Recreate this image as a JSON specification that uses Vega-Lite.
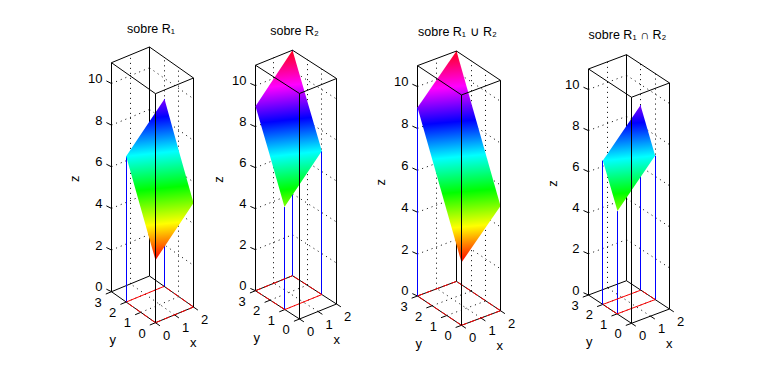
{"$schema":"https://vega.github.io/schema/vega-lite/v6.json","width":762,"height":375,"autosize":"none","padding":0,"background":"white","config":{"view":{"stroke":null},"text":{"font":"Liberation Sans","fontSize":13,"color":"#000"},"rule":{"color":"#000","strokeWidth":1}},
"datasets":{"proj":[
{"p":1,"ox":155.5,"oy":322.7,"xx":19,"xy":-7.85,"yx":-14.667,"yy":-10.33,"zz":20.82},
{"p":2,"ox":299.5,"oy":319,"xx":18.5,"xy":-7.5,"yx":-14.667,"yy":-9.43,"zz":20.5},
{"p":3,"ox":461.5,"oy":325.3,"xx":19.5,"xy":-7.3,"yx":-14.667,"yy":-9.77,"zz":20.94},
{"p":4,"ox":631.5,"oy":323.3,"xx":19,"xy":-7.15,"yx":-14.333,"yy":-9.43,"zz":20.55}],
"rows":[
{"k":"grid","x":0,"y":3,"z":2,"x2":2,"y2":3,"z2":2},{"k":"grid","x":2,"y":3,"z":2,"x2":2,"y2":0,"z2":2},
{"k":"grid","x":0,"y":3,"z":4,"x2":2,"y2":3,"z2":4},{"k":"grid","x":2,"y":3,"z":4,"x2":2,"y2":0,"z2":4},
{"k":"grid","x":0,"y":3,"z":6,"x2":2,"y2":3,"z2":6},{"k":"grid","x":2,"y":3,"z":6,"x2":2,"y2":0,"z2":6},
{"k":"grid","x":0,"y":3,"z":8,"x2":2,"y2":3,"z2":8},{"k":"grid","x":2,"y":3,"z":8,"x2":2,"y2":0,"z2":8},
{"k":"grid","x":0,"y":3,"z":10,"x2":2,"y2":3,"z2":10},{"k":"grid","x":2,"y":3,"z":10,"x2":2,"y2":0,"z2":10},
{"k":"grid","x":1,"y":3,"z":0,"x2":1,"y2":3,"z2":11},{"k":"grid","x":2,"y":2,"z":0,"x2":2,"y2":2,"z2":11},{"k":"grid","x":2,"y":1,"z":0,"x2":2,"y2":1,"z2":11},
{"k":"grid","x":1,"y":0,"z":0,"x2":1,"y2":3,"z2":0},{"k":"grid","x":0,"y":1,"z":0,"x2":2,"y2":1,"z2":0},{"k":"grid","x":0,"y":2,"z":0,"x2":2,"y2":2,"z2":0},
{"k":"back","x":0,"y":3,"z":0,"x2":0,"y2":3,"z2":11},{"k":"back","x":2,"y":3,"z":0,"x2":2,"y2":3,"z2":11},
{"k":"back","x":0,"y":0,"z":0,"x2":2,"y2":0,"z2":0},{"k":"back","x":2,"y":0,"z":0,"x2":2,"y2":3,"z2":0},{"k":"back","x":2,"y":3,"z":0,"x2":0,"y2":3,"z2":0},{"k":"back","x":0,"y":3,"z":0,"x2":0,"y2":0,"z2":0},
{"k":"front","x":0,"y":0,"z":0,"x2":0,"y2":0,"z2":11},{"k":"front","x":2,"y":0,"z":0,"x2":2,"y2":0,"z2":11},
{"k":"front","x":0,"y":0,"z":11,"x2":2,"y2":0,"z2":11},{"k":"front","x":2,"y":0,"z":11,"x2":2,"y2":3,"z2":11},{"k":"front","x":2,"y":3,"z":11,"x2":0,"y2":3,"z2":11},{"k":"front","x":0,"y":3,"z":11,"x2":0,"y2":0,"z2":11},
{"k":"tick","x":0,"y":3,"z":0,"x2":0,"y2":3.35,"z2":-0.05},{"k":"tick","x":0,"y":3,"z":2,"x2":0,"y2":3.35,"z2":1.95},{"k":"tick","x":0,"y":3,"z":4,"x2":0,"y2":3.35,"z2":3.95},{"k":"tick","x":0,"y":3,"z":6,"x2":0,"y2":3.35,"z2":5.95},{"k":"tick","x":0,"y":3,"z":8,"x2":0,"y2":3.35,"z2":7.95},{"k":"tick","x":0,"y":3,"z":10,"x2":0,"y2":3.35,"z2":9.95},
{"k":"tick","x":0,"y":0,"z":0,"x2":0,"y2":-0.3,"z2":0},{"k":"tick","x":1,"y":0,"z":0,"x2":1,"y2":-0.3,"z2":0},{"k":"tick","x":2,"y":0,"z":0,"x2":2,"y2":-0.3,"z2":0},
{"k":"tick","x":0,"y":0,"z":0,"x2":-0.3,"y2":0,"z2":0},{"k":"tick","x":0,"y":1,"z":0,"x2":-0.3,"y2":1,"z2":0},{"k":"tick","x":0,"y":2,"z":0,"x2":-0.3,"y2":2,"z2":0},{"k":"tick","x":0,"y":3,"z":0,"x2":-0.3,"y2":3,"z2":0},
{"k":"blue","p":[1],"x":0,"y":2,"z":0,"x2":0,"y2":2,"z2":7},{"k":"blue","p":[1],"x":2,"y":2,"z":0,"x2":2,"y2":2,"z2":9},{"k":"blue","p":[1],"x":0,"y":0,"z":0,"x2":0,"y2":0,"z2":3},{"k":"blue","p":[1],"x":2,"y":0,"z":0,"x2":2,"y2":0,"z2":5},
{"k":"blue","p":[2],"x":0,"y":1,"z":0,"x2":0,"y2":1,"z2":5},{"k":"blue","p":[2],"x":2,"y":1,"z":0,"x2":2,"y2":1,"z2":7},{"k":"blue","p":[2],"x":2,"y":3,"z":0,"x2":2,"y2":3,"z2":11},
{"k":"blue","p":[3],"x":0,"y":0,"z":0,"x2":0,"y2":0,"z2":3},{"k":"blue","p":[3],"x":2,"y":0,"z":0,"x2":2,"y2":0,"z2":5},{"k":"blue","p":[3],"x":0,"y":3,"z":0,"x2":0,"y2":3,"z2":9},
{"k":"blue","p":[4],"x":0,"y":1,"z":0,"x2":0,"y2":1,"z2":5},{"k":"blue","p":[4],"x":2,"y":1,"z":0,"x2":2,"y2":1,"z2":7},{"k":"blue","p":[4],"x":0,"y":2,"z":0,"x2":0,"y2":2,"z2":7},{"k":"blue","p":[4],"x":2,"y":2,"z":0,"x2":2,"y2":2,"z2":9},
{"k":"red","p":[1],"x":0,"y":2,"z":0,"x2":2,"y2":2,"z2":0},{"k":"redd","p":[1],"x":0,"y":0,"z":0,"x2":2,"y2":0,"z2":0},{"k":"redd","p":[1],"x":0,"y":0,"z":0,"x2":0,"y2":2,"z2":0},{"k":"redd","p":[1],"x":2,"y":0,"z":0,"x2":2,"y2":2,"z2":0},
{"k":"red","p":[2],"x":0,"y":1,"z":0,"x2":2,"y2":1,"z2":0},{"k":"redd","p":[2],"x":0,"y":3,"z":0,"x2":2,"y2":3,"z2":0},{"k":"redd","p":[2],"x":0,"y":1,"z":0,"x2":0,"y2":3,"z2":0},{"k":"redd","p":[2],"x":2,"y":1,"z":0,"x2":2,"y2":3,"z2":0},
{"k":"redd","p":[3],"x":0,"y":0,"z":0,"x2":2,"y2":0,"z2":0},{"k":"redd","p":[3],"x":0,"y":3,"z":0,"x2":2,"y2":3,"z2":0},{"k":"redd","p":[3],"x":0,"y":0,"z":0,"x2":0,"y2":3,"z2":0},{"k":"redd","p":[3],"x":2,"y":0,"z":0,"x2":2,"y2":3,"z2":0},
{"k":"red","p":[4],"x":0,"y":1,"z":0,"x2":2,"y2":1,"z2":0},{"k":"red","p":[4],"x":0,"y":2,"z":0,"x2":2,"y2":2,"z2":0},{"k":"redd","p":[4],"x":0,"y":1,"z":0,"x2":0,"y2":2,"z2":0},{"k":"redd","p":[4],"x":2,"y":1,"z":0,"x2":2,"y2":2,"z2":0},
{"k":"s1","p":[1],"x":2,"y":2,"z":9,"x2":2,"y2":2},{"k":"s1","p":[1],"x":0,"y":2,"z":7,"x2":2,"y2":0.897},{"k":"s1","p":[1],"x":0,"y":1.103,"z":5.206,"x2":2,"y2":0},{"k":"s1","p":[1],"x":0,"y":0,"z":3,"x2":0,"y2":0},
{"k":"s2","p":[2],"x":2,"y":3,"z":11,"x2":2,"y2":3},{"k":"s2","p":[2],"x":0,"y":3,"z":9,"x2":2,"y2":1.89},{"k":"s2","p":[2],"x":0,"y":2.11,"z":7.22,"x2":2,"y2":1},{"k":"s2","p":[2],"x":0,"y":1,"z":5,"x2":0,"y2":1},
{"k":"s3","p":[3],"x":2,"y":3,"z":11,"x2":2,"y2":3},{"k":"s3","p":[3],"x":0,"y":3,"z":9,"x2":2,"y2":1.906},{"k":"s3","p":[3],"x":0,"y":1.094,"z":5.188,"x2":2,"y2":0},{"k":"s3","p":[3],"x":0,"y":0,"z":3,"x2":0,"y2":0},
{"k":"s4","p":[4],"x":2,"y":2,"z":9,"x2":2,"y2":2},{"k":"s4","p":[4],"x":0.176,"y":2,"z":7.176,"x2":2,"y2":1},{"k":"s4","p":[4],"x":0,"y":2,"z":7,"x2":1.824,"y2":1},{"k":"s4","p":[4],"x":0,"y":1,"z":5,"x2":0,"y2":1},
{"k":"zl","x":0,"y":3,"z":0,"t":"0"},{"k":"zl","x":0,"y":3,"z":2,"t":"2"},{"k":"zl","x":0,"y":3,"z":4,"t":"4"},{"k":"zl","x":0,"y":3,"z":6,"t":"6"},{"k":"zl","x":0,"y":3,"z":8,"t":"8"},{"k":"zl","x":0,"y":3,"z":10,"t":"10"},
{"k":"yl","x":0,"y":0,"z":0,"t":"0"},{"k":"yl","x":0,"y":1,"z":0,"t":"1"},{"k":"yl","x":0,"y":2,"z":0,"t":"2"},{"k":"yl","x":0,"y":3,"z":0,"t":"3"},
{"k":"xl","x":0,"y":0,"z":0,"t":"0"},{"k":"xl","x":1,"y":0,"z":0,"t":"1"},{"k":"xl","x":2,"y":0,"z":0,"t":"2"},
{"k":"xn","x":1,"y":0,"z":0,"t":"x"},{"k":"yn","x":0,"y":1.5,"z":0,"t":"y"},{"k":"zn","x":0,"y":3,"z":5.5,"t":"z"},
{"k":"title","p":[1],"x":1,"y":1.5,"z":11,"t":"sobre R₁"},{"k":"title","p":[2],"x":1,"y":1.5,"z":11,"t":"sobre R₂"},{"k":"title","p":[3],"x":1,"y":1.5,"z":11,"t":"sobre R₁ ∪ R₂"},{"k":"title","p":[4],"x":1,"y":1.5,"z":11,"t":"sobre R₁ ∩ R₂"}
]},
"data":{"name":"rows"},
"transform":[
{"calculate":"datum.p||[1,2,3,4]","as":"ps"},{"flatten":["ps"]},
{"lookup":"ps","from":{"data":{"name":"proj"},"key":"p","fields":["ox","oy","xx","xy","yx","yy","zz"]}},
{"calculate":"datum.ox+datum.xx*datum.x+datum.yx*datum.y","as":"sx0"},
{"calculate":"datum.oy+datum.xy*datum.x+datum.yy*datum.y-datum.zz*datum.z","as":"sy"},
{"calculate":"datum.ox+datum.xx*datum.x2+datum.yx*datum.y2","as":"sx20"},
{"calculate":"datum.oy+datum.xy*datum.x2+datum.yy*datum.y2-datum.zz*datum.z2","as":"sy2"},
{"calculate":"datum.x==datum.x2&&datum.y==datum.y2?floor(datum.sx0)+0.5:datum.sx0","as":"sx"},
{"calculate":"datum.x==datum.x2&&datum.y==datum.y2?floor(datum.sx20)+0.5:datum.sx20","as":"sx2"}
],
"encoding":{"x":{"field":"sx","type":"quantitative","axis":null,"scale":{"domain":[0,762],"range":[0,762],"nice":false,"zero":false}},"y":{"field":"sy","type":"quantitative","axis":null,"scale":{"domain":[0,375],"range":[0,375],"nice":false,"zero":false}}},
"layer":[
{"transform":[{"filter":"datum.k=='grid'"}],"mark":{"type":"rule","strokeDash":[1,4]},"encoding":{"x2":{"field":"sx2"},"y2":{"field":"sy2"}}},
{"transform":[{"filter":"datum.k=='back'"}],"mark":{"type":"rule"},"encoding":{"x2":{"field":"sx2"},"y2":{"field":"sy2"}}},
{"transform":[{"filter":"datum.k=='tick'"}],"mark":{"type":"rule"},"encoding":{"x2":{"field":"sx2"},"y2":{"field":"sy2"}}},
{"transform":[{"filter":"datum.k=='blue'"}],"mark":{"type":"rule","color":"#0000ff"},"encoding":{"x2":{"field":"sx2"},"y2":{"field":"sy2"}}},
{"transform":[{"filter":"datum.k=='red'"}],"mark":{"type":"rule","color":"#ff0000"},"encoding":{"x2":{"field":"sx2"},"y2":{"field":"sy2"}}},
{"transform":[{"filter":"datum.k=='redd'"}],"mark":{"type":"rule","color":"#ff0000","strokeDash":[6,3]},"encoding":{"x2":{"field":"sx2"},"y2":{"field":"sy2"}}},
{"transform":[{"filter":"datum.k=='s1'"}],"mark":{"type":"area","orient":"horizontal","color":{"gradient":"linear","x1":0.563,"y1":0,"x2":0.605,"y2":0.993,"stops":[{"offset":0,"color":"#8000ff"},{"offset":0.111,"color":"#0000ff"},{"offset":0.333,"color":"#00ffff"},{"offset":0.555,"color":"#00ff00"},{"offset":0.778,"color":"#ffff00"},{"offset":1,"color":"#ff0000"}]}},"encoding":{"x2":{"field":"sx2"}}},
{"transform":[{"filter":"datum.k=='s2'"}],"mark":{"type":"area","orient":"horizontal","color":{"gradient":"linear","x1":0.5625,"y1":0,"x2":0.608,"y2":0.992,"stops":[{"offset":0,"color":"#ff0018"},{"offset":0.222,"color":"#ff00ff"},{"offset":0.444,"color":"#0000ff"},{"offset":0.667,"color":"#00ffff"},{"offset":0.889,"color":"#00ff00"},{"offset":1,"color":"#80ff00"}]}},"encoding":{"x2":{"field":"sx2"}}},
{"transform":[{"filter":"datum.k=='s3'"}],"mark":{"type":"area","orient":"horizontal","color":{"gradient":"linear","x1":0.4655,"y1":0,"x2":0.501,"y2":1.001,"stops":[{"offset":0,"color":"#ff0018"},{"offset":0.167,"color":"#ff00ff"},{"offset":0.333,"color":"#0000ff"},{"offset":0.5,"color":"#00ffff"},{"offset":0.667,"color":"#00ff00"},{"offset":0.833,"color":"#ffff00"},{"offset":1,"color":"#ff0000"}]}},"encoding":{"x2":{"field":"sx2"}}},
{"transform":[{"filter":"datum.k=='s4'"}],"mark":{"type":"area","orient":"horizontal","color":{"gradient":"linear","x1":0.722,"y1":0,"x2":0.768,"y2":0.977,"stops":[{"offset":0,"color":"#8000ff"},{"offset":0.1675,"color":"#0000ff"},{"offset":0.5,"color":"#00ffff"},{"offset":0.8325,"color":"#00ff00"},{"offset":1,"color":"#80ff00"}]}},"encoding":{"x2":{"field":"sx2"}}},
{"transform":[{"filter":"datum.k=='front'"}],"mark":{"type":"rule"},"encoding":{"x2":{"field":"sx2"},"y2":{"field":"sy2"}}},
{"transform":[{"filter":"datum.k=='zl'"}],"mark":{"type":"text","align":"right","baseline":"middle","dx":-9,"dy":-4.5},"encoding":{"text":{"field":"t"}}},
{"transform":[{"filter":"datum.k=='yl'"}],"mark":{"type":"text","align":"center","baseline":"middle","dx":-13.5,"dy":11},"encoding":{"text":{"field":"t"}}},
{"transform":[{"filter":"datum.k=='xl'"}],"mark":{"type":"text","align":"center","baseline":"middle","dx":11,"dy":13},"encoding":{"text":{"field":"t"}}},
{"transform":[{"filter":"datum.k=='xn'"}],"mark":{"type":"text","align":"center","baseline":"middle","dx":18.7,"dy":28},"encoding":{"text":{"field":"t"}}},
{"transform":[{"filter":"datum.k=='yn'"}],"mark":{"type":"text","align":"center","baseline":"middle","dx":-20.7,"dy":33},"encoding":{"text":{"field":"t"}}},
{"transform":[{"filter":"datum.k=='zn'"}],"mark":{"type":"text","align":"center","baseline":"middle","angle":270,"dx":-1.5,"dy":-36},"encoding":{"text":{"field":"t"}}},
{"transform":[{"filter":"datum.k=='title'"}],"mark":{"type":"text","align":"center","baseline":"middle","fontSize":12.5,"dx":-1.5,"dy":-41},"encoding":{"text":{"field":"t"}}}
]}
